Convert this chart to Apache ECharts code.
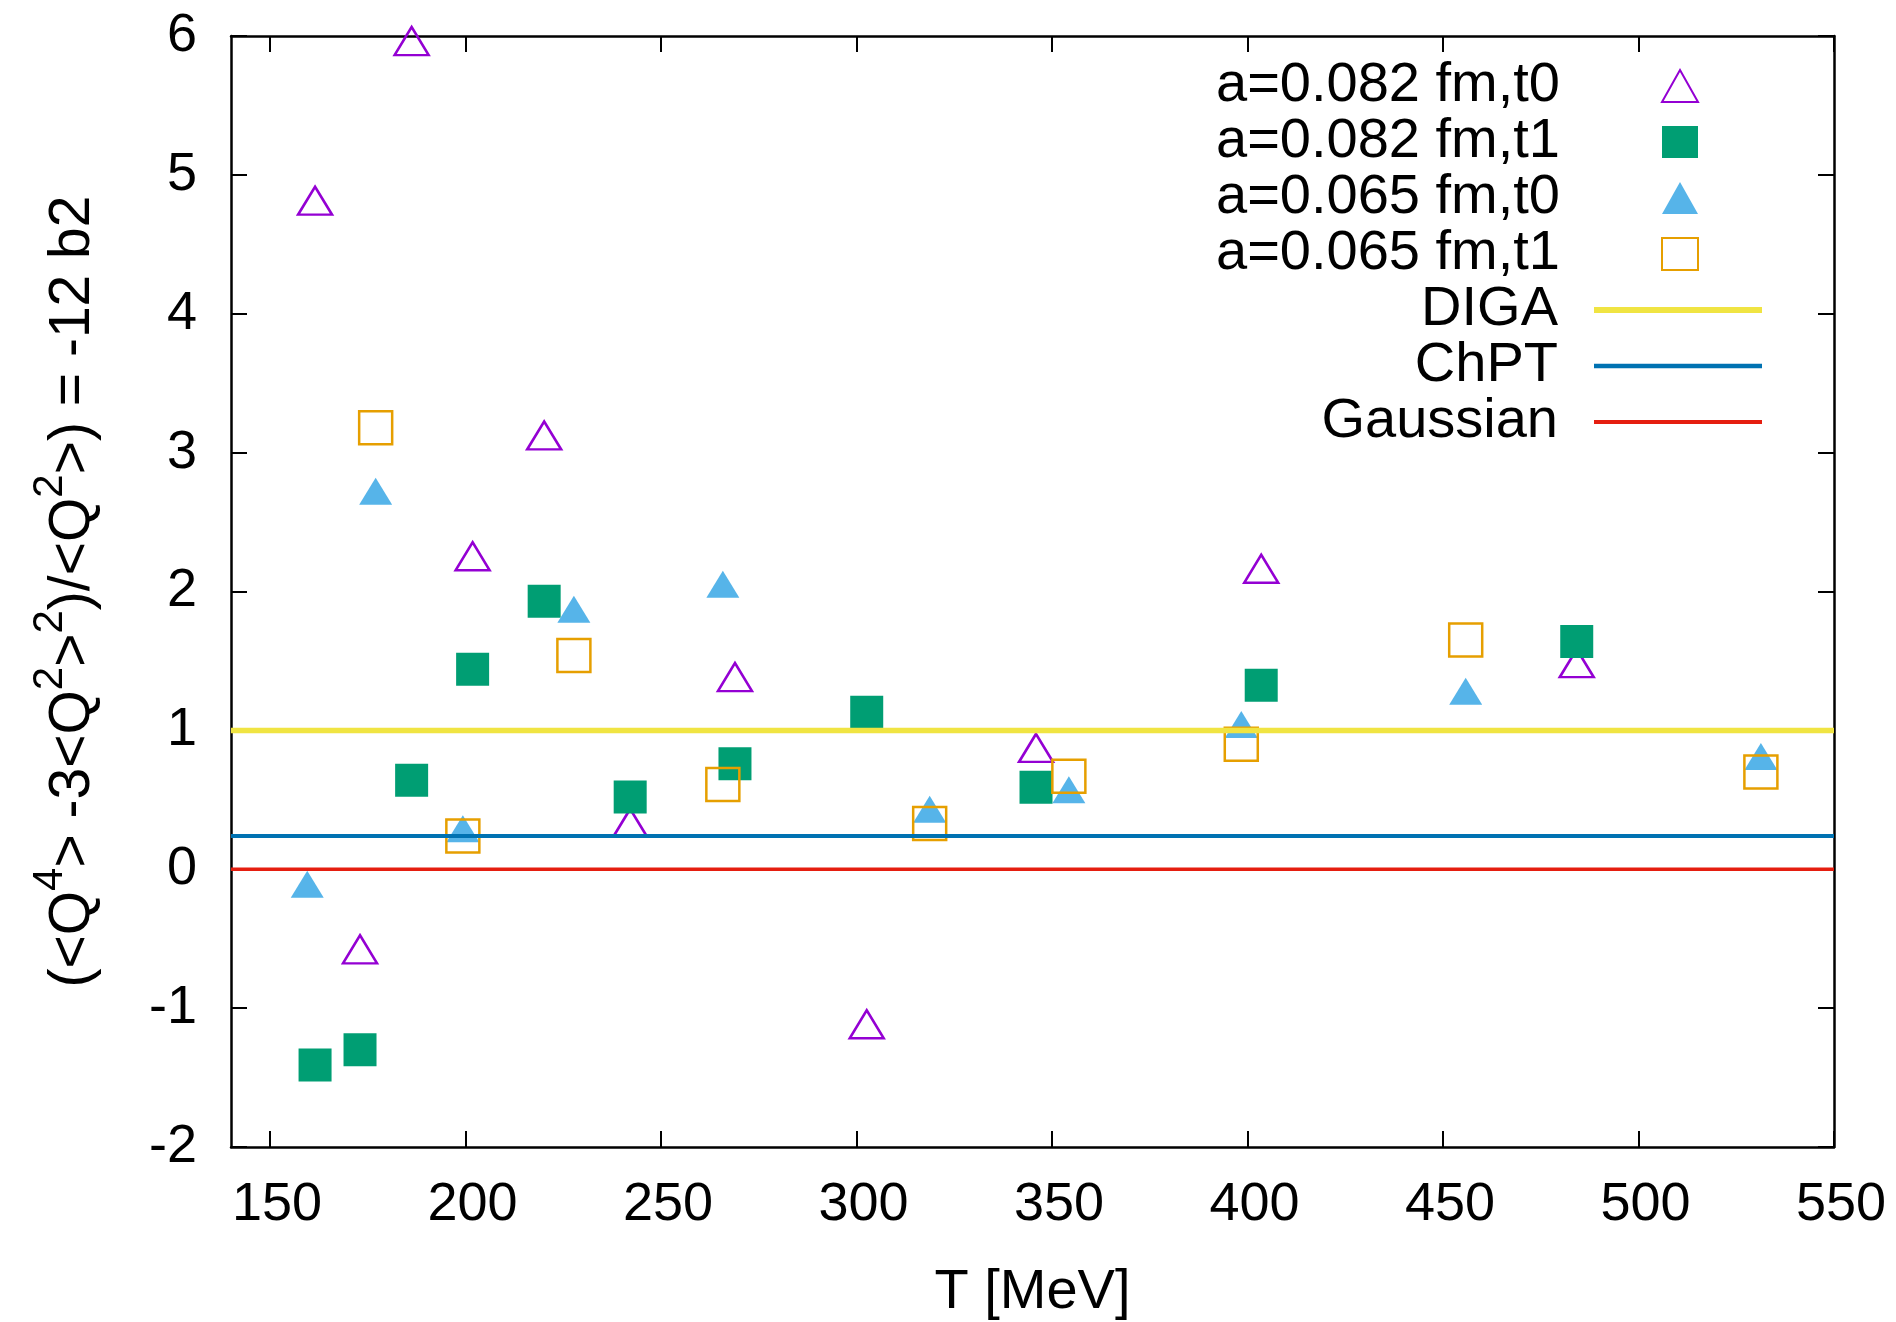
<!DOCTYPE html>
<html>
<head>
<meta charset="utf-8">
<script src="https://cdn.jsdelivr.net/npm/echarts@6/dist/echarts.min.js"></script>
<style>html,body{margin:0;padding:0;background:#fff}#chart{width:1896px;height:1322px}</style>
</head>
<body>
<div id="chart"></div>
<script>
// ---- data ----
const xTicks = [150, 200, 250, 300, 350, 400, 450, 500, 550];
const yTicks = [-2, -1, 0, 1, 2, 3, 4, 5, 6];
const xRange = [140, 550];
const yRange = [-2, 6];

const seriesNames = ['a=0.082 fm,t0', 'a=0.082 fm,t1', 'a=0.065 fm,t0', 'a=0.065 fm,t1'];

const tempA082 = [161.5, 173, 186.2, 201.8, 220.1, 242.1, 268.9, 302.6, 345.9, 403.5, 484.2];
const b2A082t0 = [4.78, -0.61, 5.93, 2.22, 3.09, 0.30, 1.35, -1.15, 0.84, 2.13, 1.45];
const b2A082t1 = [-1.41, -1.30, 0.64, 1.44, 1.93, 0.52, 0.76, 1.13, 0.59, 1.325, 1.64];

const tempA065 = [159.5, 177, 199.3, 227.7, 265.8, 318.7, 354.3, 398.4, 455.8, 531.3];
const b2A065t0 = [-0.14, 2.69, 0.26, 1.84, 2.02, 0.40, 0.54, 1.01, 1.25, 0.78];
const b2A065t1 = [null, 3.18, 0.24, 1.54, 0.61, 0.33, 0.67, 0.90, 1.65, 0.70];

const lineNames = ['DIGA', 'ChPT', 'Gaussian'];
const lineValues = [1.0, 0.24, 0.0];

// ---- styling ----
const FONT = '"Liberation Sans", Arial, Helvetica, sans-serif';
const markerColors = ['#9400d3', '#009e73', '#56b4e9', '#e69f00'];
const lineColors = ['#f0e442', '#0072b2', '#e51e10'];
const lineWidths = [5.5, 4, 3.5];

function pairs(xs, ys) {
  const out = [];
  for (let i = 0; i < xs.length; i++) if (ys[i] !== null) out.push([xs[i], ys[i]]);
  return out;
}

const scatterDefs = [
  { data: pairs(tempA082, b2A082t0), symbol: 'triangle', size: [34, 28], offset: [0, -4.7], hollow: true },
  { data: pairs(tempA082, b2A082t1), symbol: 'rect', size: 33, offset: [0, 0], hollow: false },
  { data: pairs(tempA065, b2A065t0), symbol: 'triangle', size: [33, 27], offset: [0, -4.5], hollow: false },
  { data: pairs(tempA065, b2A065t1), symbol: 'rect', size: 33, offset: [0, 0], hollow: true }
];

const series = [];
scatterDefs.forEach((d, i) => {
  series.push({
    name: seriesNames[i],
    type: 'scatter',
    data: d.data,
    symbol: d.symbol,
    symbolSize: d.size,
    symbolOffset: d.offset,
    itemStyle: d.hollow
      ? { color: 'rgba(0,0,0,0)', borderColor: markerColors[i], borderWidth: 2.5, opacity: 1 }
      : { color: markerColors[i], borderWidth: 0, opacity: 1 },
    emphasis: { disabled: true },
    z: 2
  });
});
lineNames.forEach((n, i) => {
  series.push({
    name: n,
    type: 'line',
    data: [[xRange[0], lineValues[i]], [xRange[1], lineValues[i]]],
    symbol: 'none',
    showSymbol: false,
    lineStyle: { color: lineColors[i], width: lineWidths[i] },
    itemStyle: { color: lineColors[i] },
    emphasis: { disabled: true },
    z: 3
  });
});

const axisLineStyle = { color: '#000', width: 2.5 };
const tickStyle = { color: '#000', width: 2 };
const legendText = { fontSize: 56, lineHeight: 56, fontFamily: FONT, color: '#000' };

const option = {
  animation: false,
  backgroundColor: '#fff',
  grid: { left: 231, right: 62, top: 36, bottom: 175, containLabel: false, outerBoundsMode: 'none' },
  legend: [
    {
      data: seriesNames,
      orient: 'vertical',
      align: 'right',
      right: 197,
      top: 58,
      padding: 0,
      itemWidth: 36,
      itemHeight: 32,
      itemGap: 0,
      selectedMode: false,
      textStyle: Object.assign({ padding: [0, 97, 0, 0] }, legendText)
    },
    {
      data: lineNames.map((n, i) => ({
        name: n,
        lineStyle: { color: lineColors[i], width: lineWidths[i] + 0.5 }
      })),
      orient: 'vertical',
      align: 'right',
      right: 131,
      top: 58 + 4 * 56,
      padding: 0,
      itemWidth: 168,
      itemHeight: 32,
      itemGap: 0,
      selectedMode: false,
      itemStyle: { color: 'rgba(0,0,0,0)', borderWidth: 0 },
      textStyle: Object.assign({ padding: [0, 31, 0, 0] }, legendText)
    }
  ],
  xAxis: [
    {
      type: 'value', min: xRange[0], max: xRange[1], position: 'bottom',
      name: 'T [MeV]', nameLocation: 'middle', nameGap: 118,
      nameTextStyle: { fontSize: 56, fontFamily: FONT, color: '#000' },
      axisLine: { show: true, onZero: false, lineStyle: axisLineStyle },
      axisTick: { show: true, inside: true, length: 16, lineStyle: tickStyle, customValues: xTicks },
      axisLabel: { show: true, customValues: xTicks, margin: 31, fontSize: 54, fontFamily: FONT, color: '#000', padding: [0, 0, 0, 14] },
      splitLine: { show: false }
    },
    {
      type: 'value', min: xRange[0], max: xRange[1], position: 'top',
      axisLine: { show: true, onZero: false, lineStyle: axisLineStyle },
      axisTick: { show: true, inside: true, length: 16, lineStyle: tickStyle, customValues: xTicks },
      axisLabel: { show: false },
      splitLine: { show: false }
    }
  ],
  yAxis: [
    {
      type: 'value', min: yRange[0], max: yRange[1], interval: 1, position: 'left',
      name: '(<Q{sup|4}> -3<Q{sup|2}>{sup|2})/<Q{sup|2}>) = -12 b2',
      nameLocation: 'middle', nameGap: 128,
      nameTextStyle: {
        fontSize: 57, fontFamily: FONT, color: '#000', lineHeight: 60,
        rich: { sup: { fontSize: 42, lineHeight: 42, padding: [0, 0, 46, 0], fontFamily: FONT, color: '#000' } }
      },
      axisLine: { show: true, onZero: false, lineStyle: axisLineStyle },
      axisTick: { show: true, inside: true, length: 16, lineStyle: tickStyle, customValues: yTicks },
      axisLabel: { show: true, customValues: yTicks, margin: 34, fontSize: 54, fontFamily: FONT, color: '#000' },
      splitLine: { show: false }
    },
    {
      type: 'value', min: yRange[0], max: yRange[1], interval: 1, position: 'right',
      axisLine: { show: true, onZero: false, lineStyle: axisLineStyle },
      axisTick: { show: true, inside: true, length: 16, lineStyle: tickStyle, customValues: yTicks },
      axisLabel: { show: false },
      splitLine: { show: false }
    }
  ],
  series: series
};

const chart = echarts.init(document.getElementById('chart'), null, { renderer: 'canvas' });
chart.setOption(option);
</script>
</body>
</html>
